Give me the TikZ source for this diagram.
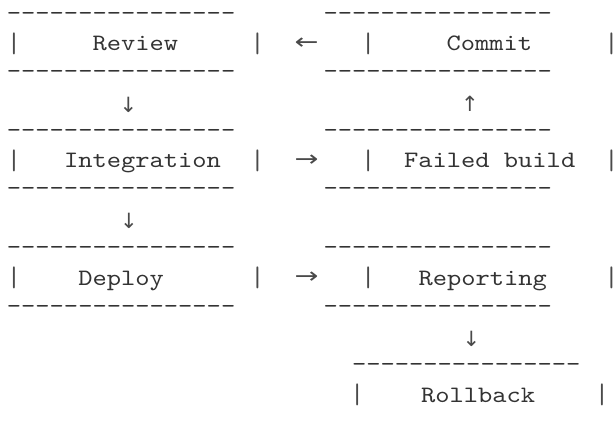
\documentclass[tikz,border=0pt]{standalone}
\usepackage{graphicx}
\usepackage{fontspec}
% Typewriter face widened to a 14.28pt character pitch
\newfontfamily\asciifont{lmmono10-regular.otf}[FakeStretch=1.157]
\newfontfamily\arrowfont{DejaVu Sans}
\definecolor{ink}{HTML}{333333}
\definecolor{arrowink}{HTML}{4A4A4A}
% one hyphen per 14.28pt cell, sixteen in a row
\newcommand\hy{\makebox[14.28pt][c]{-}}
\newcommand\dashrow{\hy\hy\hy\hy\hy\hy\hy\hy\hy\hy\hy\hy\hy\hy\hy\hy}
\newcommand\vbar{\makebox[2pt][c]{\scalebox{1}[1.2]{|}}}
\tikzset{
  plain/.style={inner sep=0pt, outer sep=0pt, text=ink,
    font=\asciifont\fontsize{23.5}{29.3}\selectfont},
  word/.style={plain, anchor=base west},
  bar/.style={plain, anchor=center, text=arrowink},
  rule/.style={plain, anchor=base west},
  harrow/.style={inner sep=0pt, text=arrowink, anchor=center,
    font=\arrowfont\fontsize{22}{26}\selectfont},
  varrow/.style={inner sep=0pt, text=arrowink, anchor=center,
    font=\arrowfont\fontsize{21}{24}\selectfont},
}
\newcommand\hleft{\scalebox{1.3}[1]{←}}
\newcommand\hright{\scalebox{1.3}[1]{→}}
\begin{document}
\begin{tikzpicture}[x=1pt,y=-1pt]
\useasboundingbox (0,0) rectangle (614,421);
% ---- rows 0-2: Review <- Commit
\node[rule] (r0l) at (6.85,20) {\dashrow};
\node[rule] (r0r) at (323.5,20) {\dashrow};
\node[bar]  (b1a) at (14,43.7) {\vbar};
\node[word] (review) at (92.5,50.7) {Review};
\node[bar]  (b1b) at (257.6,43.7) {\vbar};
\node[harrow] (a1) at (306.5,43.3) {\hleft};
\node[bar]  (b1c) at (368.3,43.7) {\vbar};
\node[word] (commit) at (446.5,50.7) {Commit};
\node[bar]  (b1d) at (611.5,43.7) {\vbar};
\node[rule] (r2l) at (6.85,78.6) {\dashrow};
\node[rule] (r2r) at (323.5,78.6) {\dashrow};
% ---- row 3: vertical arrows
\node[varrow] (a3l) at (128.3,105) {↓};
\node[varrow] (a3r) at (470,104) {↑};
% ---- rows 4-6: Integration -> Failed build
\node[rule] (r4l) at (6.85,137.2) {\dashrow};
\node[rule] (r4r) at (323.5,137.2) {\dashrow};
\node[bar]  (b5a) at (14,161) {\vbar};
\node[word] (integ) at (64,167.9) {Integration};
\node[bar]  (b5b) at (257.6,161) {\vbar};
\node[harrow] (a5) at (306.5,160.6) {\hright};
\node[bar]  (b5c) at (368.3,161) {\vbar};
\node[word] (failed) at (404,167.9) {Failed build};
\node[bar]  (b5d) at (611.5,161) {\vbar};
\node[rule] (r6l) at (6.85,195.8) {\dashrow};
\node[rule] (r6r) at (323.5,195.8) {\dashrow};
% ---- row 7
\node[varrow] (a7) at (129,221) {↓};
% ---- rows 8-10: Deploy -> Reporting
\node[rule] (r8l) at (6.85,254.4) {\dashrow};
\node[rule] (r8r) at (323.5,254.4) {\dashrow};
\node[bar]  (b9a) at (14,278.2) {\vbar};
\node[word] (deploy) at (78.25,285.1) {Deploy};
\node[bar]  (b9b) at (257.6,278.2) {\vbar};
\node[harrow] (a9) at (306.5,277.8) {\hright};
\node[bar]  (b9c) at (368.3,278.2) {\vbar};
\node[word] (report) at (418.5,285.1) {Reporting};
\node[bar]  (b9d) at (611.5,278.2) {\vbar};
\node[rule] (r10l) at (6.85,313) {\dashrow};
\node[rule] (r10r) at (323.5,313) {\dashrow};
% ---- row 11
\node[varrow] (a11) at (471.5,338.5) {↓};
% ---- rows 12-13: Rollback
\node[rule] (r12) at (352,371.6) {\dashrow};
\node[bar]  (b13a) at (357.3,395.2) {\vbar};
\node[word] (rollback) at (421,402.3) {Rollback};
\node[bar]  (b13b) at (602,395.2) {\vbar};
\end{tikzpicture}
\end{document}
